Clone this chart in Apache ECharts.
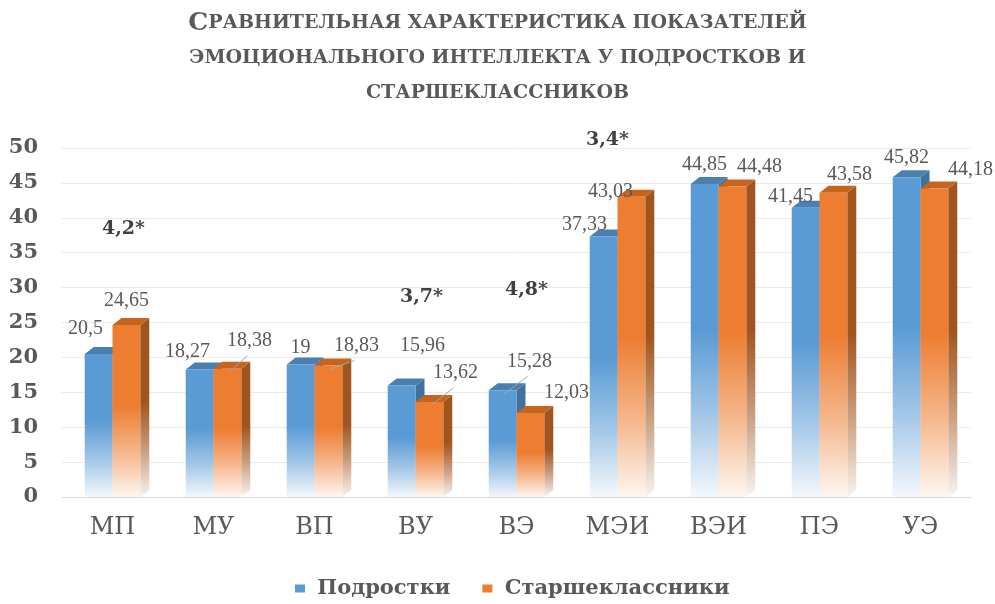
<!DOCTYPE html>
<html><head><meta charset="utf-8">
<script src="https://cdn.jsdelivr.net/npm/echarts@6/dist/echarts.min.js"></script>
<style>html,body{margin:0;padding:0;background:#fff}#c{width:995px;height:604px}</style>
</head><body><div id="c"></div>
<script>
// ---- data ----
const categories = ['МП', 'МУ', 'ВП', 'ВУ', 'ВЭ', 'МЭИ', 'ВЭИ', 'ПЭ', 'УЭ'];
const seriesNames = ['Подростки', 'Старшеклассники'];
const teens = [20.5, 18.27, 19, 15.96, 15.28, 37.33, 44.85, 41.45, 45.82];
const seniors = [24.65, 18.38, 18.83, 13.62, 12.03, 43.03, 44.48, 43.58, 44.18];
const yMin = 0, yMax = 50, yStep = 5;
const annoCategories = ['МП', 'ВУ', 'ВЭ', 'МЭИ'];
const annoTexts = ['4,2*', '3,7*', '4,8*', '3,4*'];
const annoLevels = [38.4, 28.7, 29.7, 51.1];

// ---- layout / style (not data) ----
const labelOffsets = [
  [[-13,-25],[-12,-18],[0,-17],[21,-40],[27,-29],[-19,-12],[0,-19],[-15,-11],[0,-19]],
  [[0,-24],[22,-28],[28,-20],[26,-29],[36,-20],[-21,-5],[27,-20],[16,-18],[36,-19]]
];
const leaderLines = [[4], [1, 2, 3]];
const annoDx = [11, 6, 10, -10];
const palette = [
  { front: [91,155,213], top: '#4a7fb2', side: [65,113,156] },
  { front: [237,125,49], top: '#c5641f', side: [160,84,30] }
];
const fmt = v => String(v).replace('.', ',');
const mix = (c, t) => 'rgb(' + c.map(x => Math.round(x + (255 - x) * t)).join(',') + ')';
const grad = (c) => new echarts.graphic.LinearGradient(0, 0, 0, 1, [
  { offset: 0, color: mix(c, 0) },
  { offset: 0.47, color: mix(c, 0) },
  { offset: 0.75, color: mix(c, 0.45) },
  { offset: 1, color: mix(c, 0.93) }
]);

function barRender(s) {
  return function (params, api) {
    const i = api.value(0), v = api.value(1);
    const top = api.coord([i, v]);
    const base = api.coord([i, 0]);
    const band = api.size([1, 0])[0];
    const w = band * 0.275;
    const c = top[0];
    const x0 = s === 0 ? c - w : c;
    const x1 = x0 + w;
    const yT = top[1], yB = base[1];
    const dx = 9, dy = -7;
    const col = palette[s];
    const children = [];
    children.push({
      type: 'polygon',
      shape: { points: [[x1, yT], [x1 + dx, yT + dy], [x1 + dx, yB + dy], [x1, yB]] },
      style: { fill: grad(col.side) }
    });
    children.push({
      type: 'polygon',
      shape: { points: [[x0, yT], [x0 + dx, yT + dy], [x1 + dx, yT + dy], [x1, yT]] },
      style: { fill: col.top }
    });
    children.push({
      type: 'rect',
      shape: { x: x0, y: yT, width: w, height: yB - yT },
      style: { fill: grad(col.front) }
    });
    const off = labelOffsets[s][params.dataIndex];
    const ax = x0 + w / 2, ay = yT;
    const lx = ax + off[0], ly = ay + off[1];
    if (leaderLines[s].indexOf(params.dataIndex) >= 0) {
      children.push({
        type: 'line',
        shape: { x1: ax + 1, y1: ay + 4, x2: lx - 2, y2: ly + 15 },
        style: { stroke: '#a6a6a6', lineWidth: 1 }
      });
    }
    children.push({
      type: 'text',
      x: lx, y: ly,
      style: {
        text: fmt(v), align: 'center', verticalAlign: 'middle',
        font: '20px "Liberation Serif", serif', fill: '#595959'
      }
    });
    return { type: 'group', children: children };
  };
}

function annoRender(params, api) {
  const p = api.coord([api.value(0), api.value(1)]);
  return {
    type: 'text',
    x: p[0] + annoDx[params.dataIndex], y: p[1],
    style: {
      text: annoTexts[params.dataIndex], align: 'center', verticalAlign: 'middle',
      font: 'bold 19px "DejaVu Serif", serif', fill: '#404040'
    }
  };
}

const chart = echarts.init(document.getElementById('c'), null, { renderer: 'canvas' });
chart.setOption({
  animation: false,
  backgroundColor: '#fff',
  title: {
    left: 'center', top: 1,
    text: '{b|С}{s|РАВНИТЕЛЬНАЯ ХАРАКТЕРИСТИКА ПОКАЗАТЕЛЕЙ}\n{s|ЭМОЦИОНАЛЬНОГО ИНТЕЛЛЕКТА У ПОДРОСТКОВ И}\n{s|СТАРШЕКЛАССНИКОВ}',
    textStyle: {
      rich: {
        b: { fontFamily: 'DejaVu Serif', fontWeight: 'bold', fontSize: 25, color: '#595959', lineHeight: 35 },
        s: { fontFamily: 'DejaVu Serif', fontWeight: 'bold', fontSize: 19, color: '#595959', lineHeight: 35 }
      }
    }
  },
  legend: {
    bottom: 0, left: 290,
    itemWidth: 10, itemHeight: 8, itemGap: 32,
    icon: 'rect',
    formatter: n => ' ' + n,
    textStyle: { fontFamily: 'DejaVu Serif', fontWeight: 'bold', fontSize: 21, color: '#595959' },
    data: seriesNames
  },
  grid: { left: 62, right: 24, top: 148, bottom: 107, containLabel: false },
  xAxis: {
    type: 'category', data: categories,
    axisLine: { lineStyle: { color: '#d9d9d9' } },
    axisTick: { show: false },
    axisLabel: { margin: 19, fontFamily: 'DejaVu Serif', fontSize: 24, color: '#595959' }
  },
  yAxis: {
    type: 'value', min: yMin, max: yMax, interval: yStep,
    axisLine: { show: false }, axisTick: { show: false },
    splitLine: { lineStyle: { color: '#ebebeb' } },
    axisLabel: { margin: 24, fontFamily: 'DejaVu Serif', fontWeight: 'bold', fontSize: 21, color: '#595959' }
  },
  series: [
    {
      name: seriesNames[0], type: 'custom', clip: false,
      itemStyle: { color: '#5b9bd5' },
      renderItem: barRender(0),
      encode: { x: 0, y: 1 },
      data: teens.map((v, i) => [i, v])
    },
    {
      name: seriesNames[1], type: 'custom', clip: false,
      itemStyle: { color: '#ed7d31' },
      renderItem: barRender(1),
      encode: { x: 0, y: 1 },
      data: seniors.map((v, i) => [i, v])
    },
    {
      name: 'annotations', type: 'custom', clip: false, silent: true,
      renderItem: annoRender,
      encode: { x: 0, y: 1 },
      data: annoCategories.map((c, k) => [categories.indexOf(c), annoLevels[k]])
    }
  ]
});
</script>
</body></html>
